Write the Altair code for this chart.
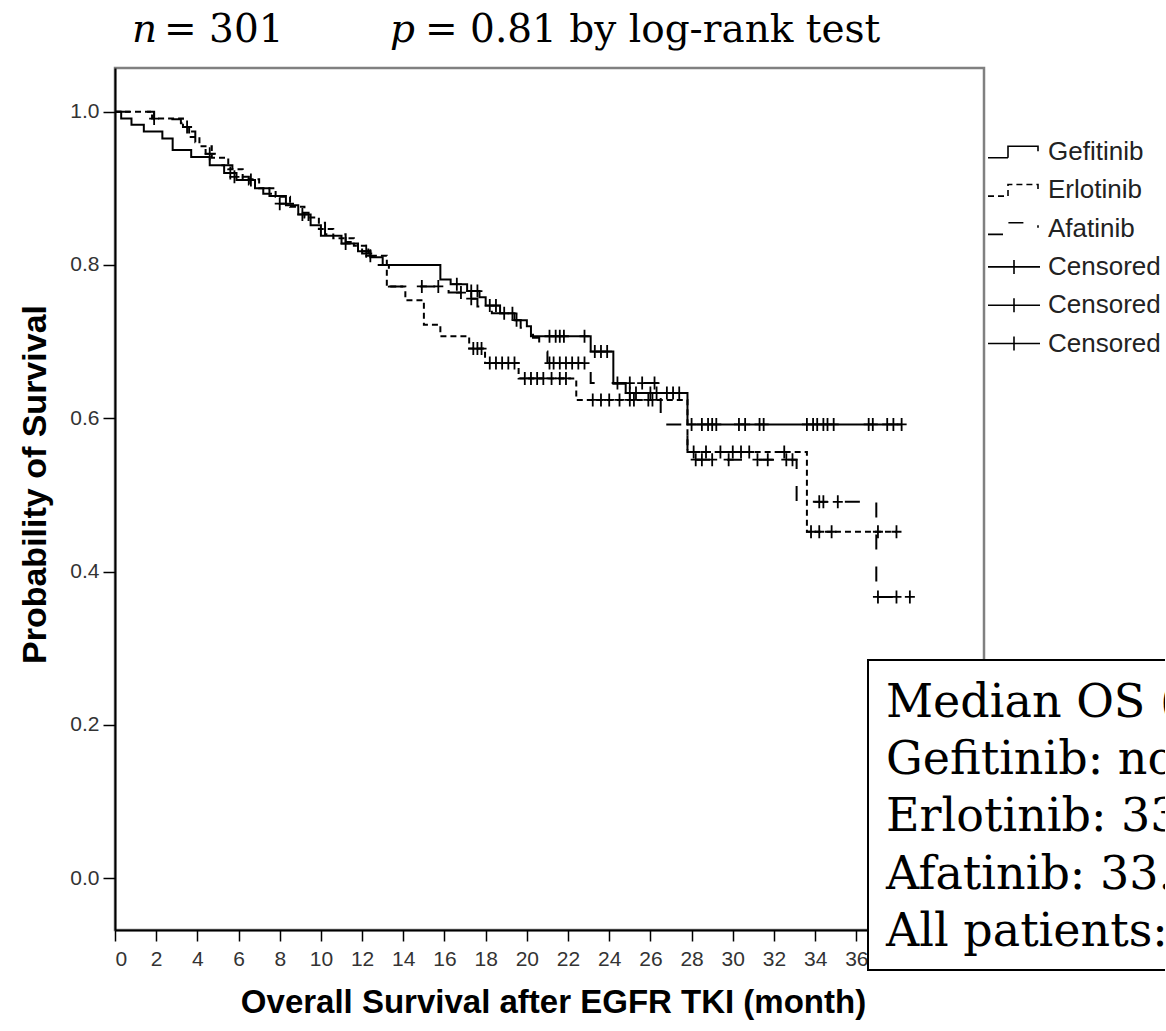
import altair as alt
import pandas as pd
import numpy as np

# ---------------- data ----------------
GROUPS = ["Gefitinib", "Erlotinib", "Afatinib"]

gef_time = [0, 0.3, 0.8, 1.4, 2.3, 2.8, 3.7, 4.6, 5.3, 5.9, 6.8, 7.5, 8.3, 8.9, 9.5, 10.0,
            11.0, 11.8, 12.4, 13.0, 15.8, 16.3, 17.1, 17.7, 18.0, 18.7, 19.4, 20.0, 20.2,
            23.1, 24.2, 24.8, 27.8]
gef_surv = [1.0, 0.991, 0.983, 0.974, 0.965, 0.95, 0.941, 0.93, 0.92, 0.911, 0.90, 0.89,
            0.878, 0.866, 0.852, 0.838, 0.828, 0.818, 0.81, 0.80, 0.781, 0.775, 0.766, 0.758,
            0.747, 0.737, 0.728, 0.72, 0.707, 0.687, 0.645, 0.633, 0.592]
gef_last = 38.2
gef_cens = [5.6, 6.6, 9.1, 11.2, 12.2, 16.6, 17.3, 17.6, 18.2, 18.5, 18.9, 19.3, 21.1, 21.4,
            21.6, 21.8, 22.8, 23.3, 23.6, 23.9, 25.0, 25.3, 26.0, 26.3, 26.8, 27.1, 27.4,
            28.0, 28.5, 28.8, 29.0, 29.2, 30.3, 30.6, 31.3, 31.5, 33.6, 33.9, 34.1, 34.4,
            34.6, 34.9, 36.6, 36.8, 37.5, 37.8, 38.2]

erl_time = [0, 1.8, 3.3, 3.6, 4.1, 4.7, 5.5, 6.2, 7.0, 7.8, 8.5, 9.2, 9.9, 10.6, 11.6, 12.3,
            13.2, 14.1, 15.0, 15.8, 17.2, 17.97, 19.6, 22.4, 27.8, 33.6]
erl_surv = [1.0, 0.991, 0.98, 0.967, 0.955, 0.94, 0.925, 0.912, 0.90, 0.889, 0.876, 0.862,
            0.847, 0.835, 0.825, 0.812, 0.772, 0.754, 0.722, 0.707, 0.691, 0.672, 0.652,
            0.624, 0.556, 0.452]
erl_last = 37.95
erl_cens = [1.9, 3.5, 12.4, 17.4, 17.6, 17.8, 18.2, 18.5, 18.8, 19.1, 19.4, 19.9, 20.2,
            20.5, 20.8, 21.2, 21.6, 21.9, 23.2, 23.6, 24.0, 24.5, 25.0, 25.2, 25.9, 26.1,
            28.1, 28.7, 29.4, 30.0, 30.4, 30.8, 32.5, 33.8, 34.2, 34.8, 37.05, 37.95]

afa_time = [0, 1.9, 3.2, 3.4, 3.9, 4.4, 5.0, 5.7, 6.5, 7.2, 8.0, 8.7, 9.4, 10.2, 11.2, 12.0,
            12.7, 13.3, 16.2, 16.9, 17.6, 18.3, 19.0, 19.7, 20.3, 20.6, 21.0, 23.1, 26.5,
            27.8, 33.1, 36.97]
afa_surv = [1.0, 0.99, 0.985, 0.974, 0.96, 0.945, 0.93, 0.915, 0.905, 0.893, 0.88, 0.868,
            0.855, 0.84, 0.83, 0.815, 0.80, 0.772, 0.764, 0.756, 0.746, 0.737, 0.728, 0.718,
            0.705, 0.687, 0.672, 0.646, 0.592, 0.546, 0.491, 0.367]
afa_last = 38.6
afa_cens = [4.6, 5.8, 8.0, 14.9, 15.7, 16.8, 17.3, 19.5, 21.1, 21.3, 21.6, 21.9, 22.2, 22.5,
            22.8, 24.4, 25.0, 25.6, 26.2, 28.2, 28.5, 29.0, 29.8, 31.2, 31.7, 32.6, 32.9,
            34.2, 34.4, 35.1, 37.05, 37.95, 38.6]

x_ticks = list(range(0, 38, 2))
y_ticks = [0.0, 0.2, 0.4, 0.6, 0.8, 1.0]

legend_labels = ["Gefitinib", "Erlotinib", "Afatinib", "Censored", "Censored ", "Censored  "]

header_parts = [("n", True), ("= 301", False), ("p", True), ("= 0.81 by log-rank test", False)]
box_lines = ["Median OS (months)", "Gefitinib: not reached", "Erlotinib: 33.6",
             "Afatinib: 33.1", "All patients: not reached"]

# ---------------- tables ----------------
series = {
    "Gefitinib": (gef_time, gef_surv, gef_last, gef_cens),
    "Erlotinib": (erl_time, erl_surv, erl_last, erl_cens),
    "Afatinib": (afa_time, afa_surv, afa_last, afa_cens),
}
curve_rows, cens_rows = [], []
for g, (t, s, last, cens) in series.items():
    for a, b in zip(t, s):
        curve_rows.append({"time": a, "surv": b, "leg": g})
    curve_rows.append({"time": last, "surv": s[-1], "leg": g})
    idx = np.searchsorted(np.array(t), np.array(cens), side="right") - 1
    for c, i in zip(cens, idx):
        cens_rows.append({"time": c, "surv": s[i], "grp": g})
curve_df = pd.DataFrame(curve_rows)
cens_df = pd.DataFrame(cens_rows)
legend_df = pd.DataFrame({"leg": legend_labels})

# ---------------- styling ----------------
W, H = 869, 862
PAD = {"left": 115, "top": 68, "right": 181, "bottom": 96}
STEP = "M-2.6,0.58H-0.6V-0.58H2.4V-0.08"
PLUS_LEG = "M-2.6,0H2.6M0,-0.7V0.7"
PLUS = "M-0.77,0H0.77M0,-1V1"

dash_scale = alt.Scale(domain=legend_labels,
                       range=[[1, 0], [6, 4], [15, 17], [1, 0], [1, 0], [1, 0]])
shape_scale = alt.Scale(domain=legend_labels,
                        range=[STEP, STEP, STEP, PLUS_LEG, PLUS_LEG, PLUS_LEG])

x_enc = alt.X("time:Q",
              scale=alt.Scale(domain=[0, 42.2], nice=False, zero=False),
              axis=alt.Axis(values=x_ticks, format="d", grid=False,
                            title="Overall Survival after EGFR TKI (month)",
                            tickSize=11, labelPadding=7,
                            titleX=438, titleY=72, titleBaseline="middle", titleAlign="center"))
y_enc = alt.Y("surv:Q",
              scale=alt.Scale(domain=[-0.0676, 1.057], nice=False, zero=False),
              axis=alt.Axis(values=y_ticks, format=".1f", grid=False,
                            title="Probability of Survival", titleFontSize=34,
                            tickSize=12, labelPadding=4,
                            titleX=-80, titleY=416, titleAngle=270,
                            titleBaseline="middle", titleAlign="center"))

leg_kw = dict(title=None, orient="none", legendX=886, legendY=71)

lines = alt.Chart(curve_df).mark_line(interpolate="step-after", color="black",
                                      strokeWidth=2).encode(
    x=x_enc, y=y_enc,
    strokeDash=alt.StrokeDash("leg:N", scale=dash_scale, legend=alt.Legend(**leg_kw)),
)

cens_pts = alt.Chart(cens_df).mark_point(shape=PLUS, size=169, color="black",
                                         strokeWidth=1.8, filled=False, opacity=1).encode(
    x="time:Q", y="surv:Q")

legend_layer = alt.Chart(legend_df).transform_filter("false").mark_point(
    filled=False, color="black", strokeWidth=1.6, opacity=1).encode(
    shape=alt.Shape("leg:N", scale=shape_scale, legend=alt.Legend(**leg_kw)),
    strokeDash=alt.StrokeDash("leg:N", scale=dash_scale, legend=alt.Legend(**leg_kw)),
)

box = alt.Chart(pd.DataFrame({"k": [0]})).mark_rect(
    fill="white", stroke="black", strokeWidth=2).encode(
    x=alt.value(753), x2=alt.value(1120), y=alt.value(592), y2=alt.value(902))

box_text = alt.Chart(pd.DataFrame({"t": ["\n".join(box_lines)]})).mark_text(
    align="left", baseline="alphabetic", font="DejaVu Serif", fontSize=46,
    lineBreak="\n", lineHeight=57.2, color="black").encode(
    x=alt.value(771), y=alt.value(649), text="t:N")

header_x = [17, 49, 275, 310]
header_layers = []
for (txt, ital), hx in zip(header_parts, header_x):
    header_layers.append(
        alt.Chart(pd.DataFrame({"t": [txt]})).mark_text(
            align="left", baseline="alphabetic", font="DejaVu Serif", fontSize=39,
            fontStyle="italic" if ital else "normal", color="black").encode(
            x=alt.value(hx), y=alt.value(-26), text="t:N"))

chart = alt.layer(lines, cens_pts, legend_layer, box, box_text, *header_layers).properties(
    width=W, height=H,
    autosize=alt.AutoSizeParams(type="none"),
    padding=PAD,
).configure_view(
    stroke="#808080", strokeWidth=2.5
).configure_axis(
    domainColor="black", domainWidth=2, tickColor="black", tickWidth=1.5,
    labelFont="Liberation Sans", labelFontSize=21, labelColor="#333333",
    titleFont="Liberation Sans", titleFontSize=33, titleFontWeight="bold", titleColor="black",
).configure_legend(
    symbolSize=400, symbolStrokeWidth=1.6, symbolStrokeColor="black",
    symbolFillColor="transparent", labelFont="Liberation Sans", labelFontSize=26,
    labelColor="#222222", labelOffset=21, rowPadding=12.3, padding=0,
)

chart.save("out.html", embed_options={"renderer": "svg", "actions": False})
